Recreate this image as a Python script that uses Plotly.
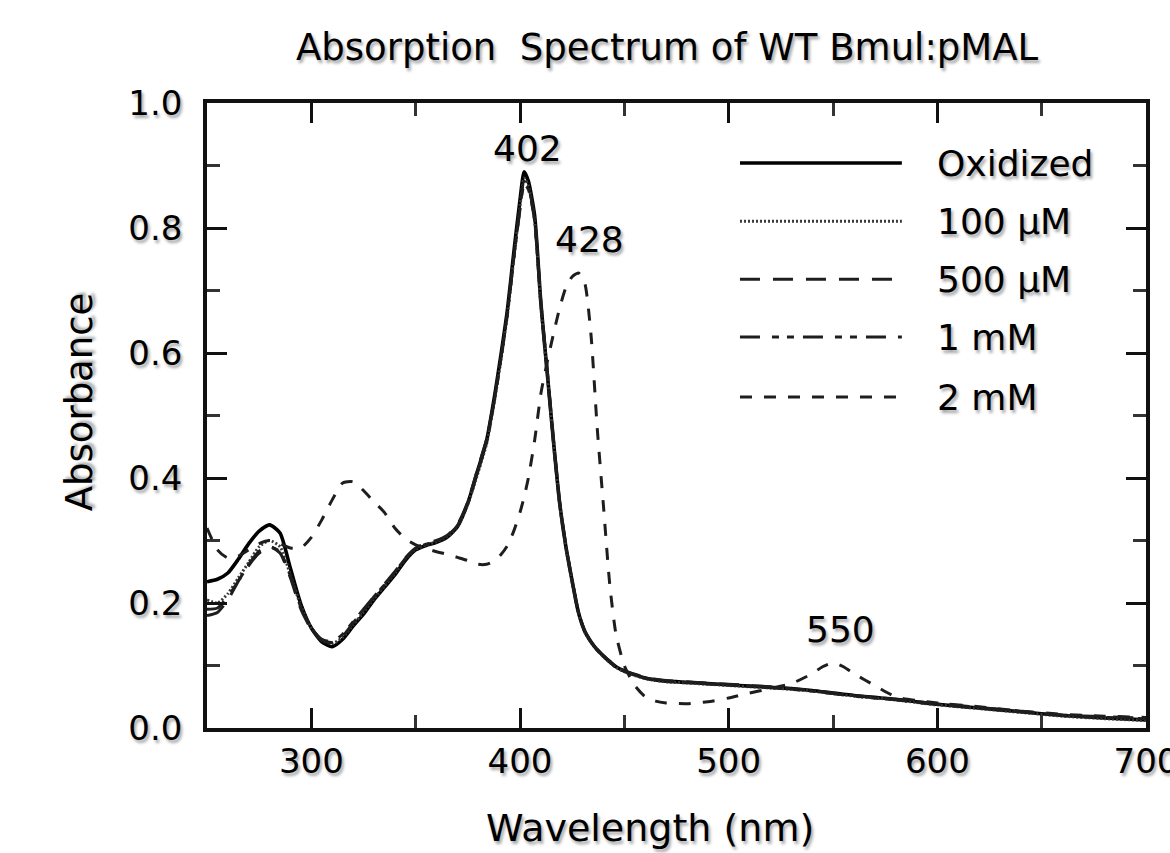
import plotly.graph_objects as go

# ---------------- data ----------------
wavelength = [250, 255, 260, 265, 270, 275, 280, 285, 290, 295, 300, 305, 310, 315, 320,
              325, 330, 335, 340, 345, 350, 355, 360, 365, 370, 375, 380, 384, 388, 391,
              394, 397, 400, 402, 404, 407, 410, 413, 416, 419, 422, 425, 428, 431, 434,
              437, 440, 443, 446, 450, 455, 460, 465, 470, 480, 490, 500, 510, 520, 530,
              540, 545, 550, 555, 560, 570, 580, 590, 600, 620, 640, 660, 680, 700]

oxidized = [0.234, 0.238, 0.248, 0.270, 0.295, 0.315, 0.325, 0.312, 0.255, 0.198, 0.160,
            0.138, 0.130, 0.142, 0.163, 0.182, 0.205, 0.225, 0.245, 0.268, 0.285, 0.292,
            0.297, 0.305, 0.322, 0.360, 0.415, 0.460, 0.535, 0.600, 0.670, 0.760, 0.845,
            0.890, 0.875, 0.820, 0.680, 0.570, 0.460, 0.360, 0.290, 0.235, 0.185, 0.155,
            0.138, 0.125, 0.115, 0.106, 0.098, 0.091, 0.085, 0.080, 0.077, 0.075, 0.073,
            0.071, 0.069, 0.067, 0.065, 0.063, 0.060, 0.058, 0.056, 0.054, 0.052, 0.049,
            0.046, 0.042, 0.038, 0.032, 0.026, 0.020, 0.016, 0.013]

uM100 = [0.205, 0.200, 0.215, 0.240, 0.265, 0.290, 0.300, 0.290, 0.245, 0.195, 0.160,
         0.140, 0.135, 0.145, 0.165, 0.185, 0.207, 0.227, 0.247, 0.270, 0.286, 0.293,
         0.298, 0.306, 0.322, 0.358, 0.410, 0.455, 0.528, 0.592, 0.662, 0.750, 0.835,
         0.880, 0.868, 0.812, 0.675, 0.568, 0.458, 0.358, 0.288, 0.233, 0.184, 0.154,
         0.137, 0.124, 0.114, 0.105, 0.097, 0.090, 0.084, 0.079, 0.076, 0.074, 0.072,
         0.070, 0.068, 0.066, 0.064, 0.062, 0.059, 0.057, 0.055, 0.053, 0.051, 0.048,
         0.045, 0.041, 0.037, 0.031, 0.025, 0.019, 0.015, 0.012]

uM500 = [0.180, 0.185, 0.205, 0.235, 0.260, 0.280, 0.290, 0.280, 0.240, 0.190, 0.158,
         0.140, 0.137, 0.147, 0.168, 0.188, 0.210, 0.230, 0.250, 0.272, 0.288, 0.295,
         0.300, 0.308, 0.325, 0.362, 0.418, 0.462, 0.532, 0.595, 0.665, 0.752, 0.832,
         0.875, 0.866, 0.815, 0.682, 0.574, 0.462, 0.362, 0.292, 0.236, 0.186, 0.156,
         0.139, 0.126, 0.116, 0.107, 0.099, 0.092, 0.086, 0.081, 0.078, 0.076, 0.074,
         0.072, 0.070, 0.068, 0.066, 0.063, 0.060, 0.058, 0.056, 0.054, 0.052, 0.049,
         0.046, 0.042, 0.039, 0.033, 0.027, 0.021, 0.018, 0.016]

mM1 = [0.190, 0.192, 0.210, 0.235, 0.262, 0.283, 0.290, 0.282, 0.243, 0.193, 0.160,
       0.142, 0.138, 0.150, 0.170, 0.190, 0.210, 0.229, 0.249, 0.271, 0.287, 0.294,
       0.299, 0.307, 0.324, 0.360, 0.414, 0.458, 0.530, 0.594, 0.664, 0.751, 0.830,
       0.870, 0.862, 0.812, 0.679, 0.571, 0.460, 0.360, 0.290, 0.235, 0.185, 0.155,
       0.138, 0.125, 0.115, 0.106, 0.098, 0.091, 0.085, 0.080, 0.077, 0.075, 0.073,
       0.071, 0.069, 0.067, 0.065, 0.062, 0.059, 0.057, 0.055, 0.053, 0.051, 0.048,
       0.045, 0.041, 0.038, 0.032, 0.026, 0.020, 0.017, 0.015]

mM2 = [0.320, 0.285, 0.272, 0.275, 0.285, 0.295, 0.300, 0.295, 0.288, 0.288, 0.305,
       0.333, 0.365, 0.392, 0.394, 0.380, 0.362, 0.345, 0.320, 0.303, 0.293, 0.287,
       0.282, 0.278, 0.273, 0.268, 0.262, 0.262, 0.268, 0.278, 0.292, 0.315, 0.345,
       0.370, 0.400, 0.460, 0.535, 0.585, 0.630, 0.672, 0.705, 0.722, 0.728, 0.712,
       0.630, 0.480, 0.355, 0.230, 0.150, 0.100, 0.068, 0.050, 0.043, 0.040, 0.039,
       0.042, 0.048, 0.056, 0.063, 0.071, 0.087, 0.098, 0.104, 0.098, 0.087, 0.068,
       0.050, 0.044, 0.040, 0.034, 0.027, 0.022, 0.019, 0.017]

series_names = ["Oxidized", "100 \u00b5M", "500 \u00b5M", "1 mM", "2 mM"]
series_values = [oxidized, uM100, uM500, mM1, mM2]

peak_labels = ["402", "428", "550"]
peak_label_y = [0.928, 0.782, 0.158]
peak_label_x = [403.5, 433.5, 553.5]

x_tick_values = [300, 400, 500, 600, 700]
y_tick_values = [0.0, 0.2, 0.4, 0.6, 0.8, 1.0]

# ---------------- styles ----------------
FONT = "DejaVu Sans"
SHADOW = "2px 3px 3px rgba(0,0,0,0.35)"
styles = [
    dict(color="#000000", width=3.6, dash="solid"),
    dict(color="#3a3a3a", width=3.0, dash="2px,2px"),
    dict(color="#1e1e1e", width=3.0, dash="20px,13px"),
    dict(color="#1e1e1e", width=3.0, dash="20px,12px,7px,8px,7px,9px"),
    dict(color="#1e1e1e", width=3.0, dash="12px,12px"),
]

fig = go.Figure()
for name, vals, st in zip(series_names, series_values, styles):
    fig.add_trace(go.Scatter(
        x=wavelength, y=vals, mode="lines", name=name,
        line=dict(color=st["color"], width=st["width"], dash=st["dash"],
                  shape="spline", smoothing=0.6),
        showlegend=False, hoverinfo="skip",
    ))

# manual legend (long line samples like the original)
legend_y = [0.904, 0.811, 0.718, 0.6256, 0.5296]
for name, st, ly in zip(series_names, styles, legend_y):
    fig.add_shape(type="line", xref="paper", yref="paper",
                  x0=0.5676, x1=0.740, y0=ly, y1=ly,
                  line=dict(color=st["color"], width=st["width"], dash=st["dash"]))
    fig.add_annotation(xref="paper", yref="paper", x=0.775, y=ly, text=name,
                       showarrow=False, xanchor="left", yanchor="middle",
                       font=dict(family=FONT, size=36, color="#000", shadow=SHADOW))

# peak labels
for px, py, lab in zip(peak_label_x, peak_label_y, peak_labels):
    fig.add_annotation(x=px, y=py, text=lab, showarrow=False,
                       xanchor="center", yanchor="middle",
                       font=dict(family=FONT, size=36, color="#000", shadow=SHADOW))

# title and axis titles
fig.add_annotation(xref="paper", yref="paper", x=0.49, y=1.088,
                   text="Absorption  Spectrum of WT Bmul:pMAL", showarrow=False,
                   xanchor="center", yanchor="middle",
                   font=dict(family=FONT, size=37, color="#000", shadow=SHADOW))
fig.add_annotation(xref="paper", yref="paper", x=0.4718, y=-0.16,
                   text="Wavelength (nm)", showarrow=False,
                   xanchor="center", yanchor="middle",
                   font=dict(family=FONT, size=38, color="#000", shadow=SHADOW))
fig.add_annotation(xref="paper", yref="paper", x=-0.136, y=0.5216,
                   text="Absorbance", showarrow=False, textangle=-90,
                   xanchor="center", yanchor="middle",
                   font=dict(family=FONT, size=37, color="#000", shadow=SHADOW))

axis_common = dict(
    showline=True, linecolor="#111", linewidth=3.5, mirror="allticks",
    ticks="inside", ticklen=20, tickwidth=3, tickcolor="#111",
    showgrid=False, zeroline=False, ticklabeloverflow="allow", automargin=False,
    tickfont=dict(family=FONT, size=34, color="#000", shadow=SHADOW),
)

fig.update_xaxes(range=[250, 700], tickvals=x_tick_values,
                 minor=dict(dtick=50, tick0=0, ticks="inside", ticklen=13,
                            tickwidth=3, tickcolor="#333", showgrid=False),
                 ticklabelstandoff=0, **axis_common)
fig.update_yaxes(range=[0, 1.0], tickvals=y_tick_values, tickformat=".1f",
                 minor=dict(dtick=0.1, tick0=0, ticks="inside", ticklen=13,
                            tickwidth=3, tickcolor="#333", showgrid=False),
                 ticklabelstandoff=14, **axis_common)

fig.update_layout(
    width=1170, height=853,
    margin=dict(l=207, r=24, t=103, b=125, autoexpand=False),
    paper_bgcolor="white", plot_bgcolor="white",
    showlegend=False,
)

fig.write_html("out.html", config={"displayModeBar": False},
               post_script="document.body.style.margin='0px';"
                           "document.body.style.overflow='hidden';")
